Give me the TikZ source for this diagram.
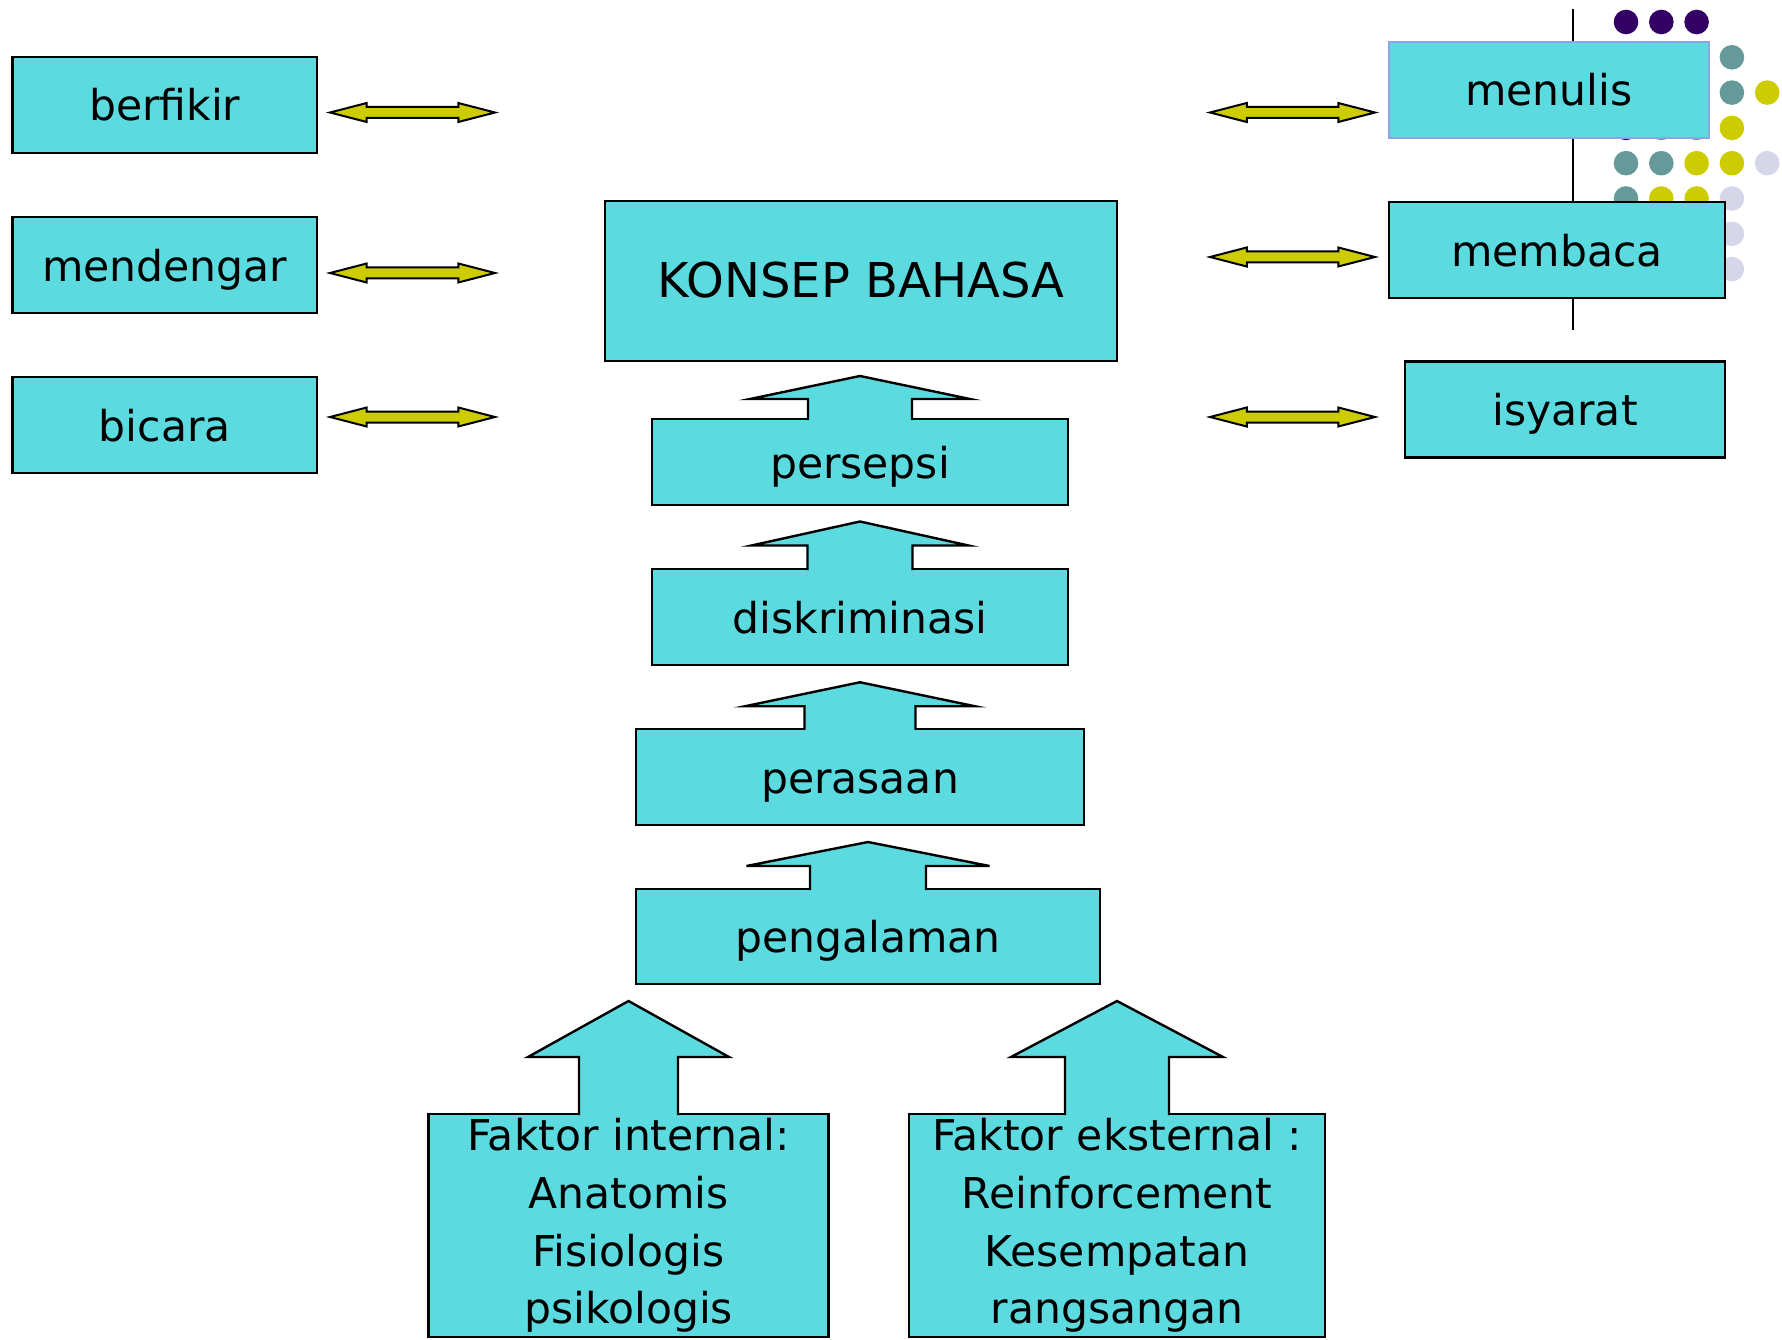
\documentclass[tikz,border=0pt]{standalone}
\usepackage{fontspec}
\setmainfont{DejaVu Sans}
\usepackage{tikz}
\usetikzlibrary{calc, shapes}

\definecolor{kotak}{RGB}{91,219,224}
\definecolor{kuning}{RGB}{204,204,0}
\definecolor{ungu}{RGB}{51,0,102}
\definecolor{hijau}{RGB}{102,153,153}
\definecolor{lembut}{RGB}{214,214,234}
\definecolor{tepi}{RGB}{143,163,232}

% block arrow going up out of a box: node, shaft half, head half, head base, tip
\newcommand{\panahatas}[5]{%
\draw[blok] ($(#1.north)+(-#2,1.2)$) -- ($(#1.north)+(-#2,-#4)$) -- ($(#1.north)+(-#3,-#4)$)
  -- ($(#1.north)+(0,-#5)$) -- ($(#1.north)+(#3,-#4)$) -- ($(#1.north)+(#2,-#4)$)
  -- ($(#1.north)+(#2,1.2)$);}

\begin{document}
\begin{tikzpicture}[x=1pt, y=-1pt,
box/.style={draw, line width=2.4pt, fill=kotak, inner sep=0pt, outer sep=0pt,
  text height=36pt, text depth=4pt, font=\fontsize{42.5}{51}\selectfont},
faktor/.style={draw, line width=2.4pt, fill=kotak, inner sep=0pt, outer sep=0pt,
  align=center, anchor=north, minimum height=223pt, font=\fontsize{42.5}{57.7}\selectfont},
dua/.style={double arrow, draw, line width=2pt, fill=kuning, minimum height=165pt,
  inner xsep=0pt, inner ysep=4.5pt, double arrow head extend=4pt, double arrow tip angle=29},
blok/.style={draw, line width=2.4pt, fill=kotak, line join=miter}]
\useasboundingbox (0,0) rectangle (1782,1340);

% background decoration
\draw[line width=2.5pt] (1573,9) -- (1573,330);
\foreach \i/\j/\c in {0/0/ungu, 1/0/ungu, 2/0/ungu, 3/1/hijau, 3/2/hijau, 4/2/kuning,
  0/3/ungu, 1/3/hijau, 2/3/hijau, 3/3/kuning, 0/4/hijau, 1/4/hijau, 2/4/kuning,
  3/4/kuning, 4/4/lembut, 0/5/hijau, 1/5/kuning, 2/5/kuning, 3/5/lembut,
  3/6/lembut, 3/7/lembut}
  \fill[\c] (1626+35.3*\i, 22+35.3*\j) circle[radius=12.3];

\node[box, minimum width=304.5pt, minimum height=96pt] (berfikir) at (164.75,105) {berfikir};
\node[box, minimum width=304.5pt, minimum height=96pt] (mendengar) at (164.75,265) {mendengar};
\node[box, minimum width=304.5pt, minimum height=96pt] (bicara) at (164.75,425) {bicara};

\node[box, draw=tepi, minimum width=320pt, minimum height=96pt] (menulis) at (1549,90) {menulis};
\node[box, minimum width=336pt, minimum height=96pt] (membaca) at (1557,250) {membaca};
\node[box, minimum width=320pt, minimum height=96pt] (isyarat) at (1565,409.5) {isyarat};

\node[box, minimum width=512pt, minimum height=160pt, font=\fontsize{48}{58}\selectfont] (konsep) at (861,281) {KONSEP BAHASA};
\node[box, minimum width=416pt, minimum height=86pt] (persepsi) at (860,462) {persepsi};
\node[box, minimum width=416pt, minimum height=96pt] (diskriminasi) at (860,617) {diskriminasi};
\node[box, minimum width=448pt, minimum height=96.5pt] (perasaan) at (860,777) {perasaan};
\node[box, minimum width=464pt, minimum height=95pt] (pengalaman) at (868,936.5) {pengalaman};

\node[faktor, minimum width=400pt] (internal) at (628.5,1114)
  {Faktor internal:\\Anatomis\\Fisiologis\\psikologis};
\node[faktor, minimum width=416pt] (eksternal) at (1117,1114)
  {Faktor eksternal :\\Reinforcement\\Kesempatan\\rangsangan};

\node[dua] (kiri1) at (412.5,112.5) {};
\node[dua] (kiri2) at (412.5,273) {};
\node[dua] (kiri3) at (412.5,417) {};
\node[dua] (kanan1) at (1292.5,112.5) {};
\node[dua] (kanan2) at (1292.5,257) {};
\node[dua] (kanan3) at (1292.5,417) {};

\panahatas{persepsi}{52}{110}{20}{43}
\panahatas{diskriminasi}{52.5}{108.5}{23.5}{47.5}
\panahatas{perasaan}{55.5}{115}{22.5}{46.5}
\panahatas{pengalaman}{58}{121.5}{23}{47}
\panahatas{internal}{49.5}{100.5}{57}{113}
\panahatas{eksternal}{52}{106}{57}{113}
\end{tikzpicture}
\end{document}
